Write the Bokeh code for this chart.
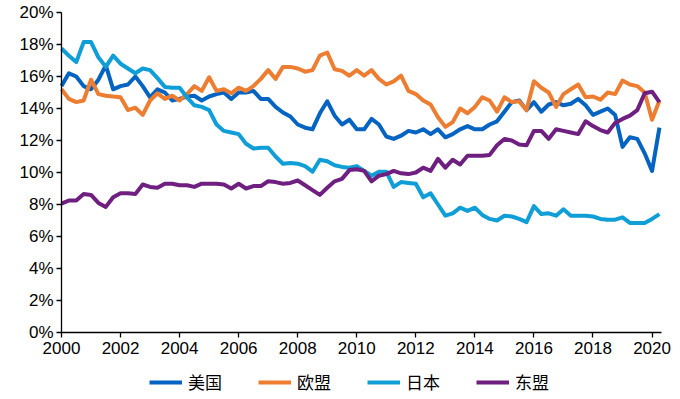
import numpy as np
from bokeh.plotting import figure
from bokeh.models import FixedTicker, Legend, LegendItem, Range1d
from bokeh.embed import file_html
from bokeh.resources import INLINE

# Quarterly data 2000Q1 .. 2020Q2 (share of total, %)
start_year = 2000
series_names = ["美国", "欧盟", "日本", "东盟"]

us = [15.4, 16.2, 16.0, 15.4, 15.2, 15.8, 16.7, 15.2, 15.4, 15.5,
      16.0, 15.4, 14.7, 15.2, 15.0, 14.5, 14.6, 14.75, 14.8, 14.5,
      14.75, 14.9, 15.0, 14.6, 15.0, 15.0, 15.1, 14.6, 14.6, 14.1,
      13.75, 13.5, 13.0, 12.8, 12.7, 13.7, 14.45, 13.55, 13.0, 13.3,
      12.7, 12.7, 13.35, 13.0, 12.25, 12.1, 12.3, 12.6, 12.5, 12.7,
      12.4, 12.7, 12.2, 12.4, 12.7, 12.9, 12.7, 12.7, 13.0, 13.2,
      13.8, 14.4, 14.5, 13.9, 14.4, 13.8, 14.25, 14.4, 14.2, 14.3,
      14.6, 14.2, 13.6, 13.8, 14.0, 13.6, 11.6, 12.2, 12.1, 11.2,
      10.1, 12.8]

eu = [15.2, 14.6, 14.4, 14.5, 15.8, 14.9, 14.8, 14.75, 14.7, 13.9,
      14.05, 13.6, 14.5, 14.95, 14.6, 14.8, 14.5, 14.9, 15.4, 15.1,
      15.95, 15.1, 15.2, 14.95, 15.3, 15.1, 15.4, 15.85, 16.4, 15.85,
      16.6, 16.6, 16.5, 16.3, 16.4, 17.3, 17.5, 16.45, 16.35, 16.05,
      16.4, 16.05, 16.4, 15.85, 15.5, 15.7, 16.05, 15.1, 14.9, 14.5,
      14.25, 13.45, 12.85, 13.15, 14.0, 13.7, 14.1, 14.7, 14.5, 13.8,
      14.7, 14.4, 14.45, 13.9, 15.7, 15.3, 15.0, 14.1, 14.9, 15.2,
      15.5, 14.7, 14.75, 14.55, 15.0, 14.9, 15.75, 15.5, 15.4, 15.0,
      13.3, 14.5]

japan = [17.75, 17.3, 16.9, 18.15, 18.15, 17.2, 16.6, 17.3, 16.8, 16.5,
         16.2, 16.5, 16.4, 15.9, 15.35, 15.3, 15.3, 14.7, 14.2, 14.1,
         13.9, 13.0, 12.6, 12.5, 12.4, 11.8, 11.5, 11.55, 11.55, 11.0,
         10.55, 10.6, 10.55, 10.4, 10.05, 10.8, 10.7, 10.45, 10.35, 10.3,
         10.4, 10.1, 9.8, 10.05, 10.05, 9.1, 9.4, 9.35, 9.3, 8.45,
         8.7, 8.0, 7.3, 7.45, 7.8, 7.6, 7.8, 7.35, 7.1, 7.0,
         7.3, 7.25, 7.1, 6.9, 7.9, 7.4, 7.45, 7.3, 7.7, 7.3,
         7.3, 7.3, 7.25, 7.1, 7.05, 7.05, 7.2, 6.85, 6.85, 6.85,
         7.1, 7.4]

asean = [8.05, 8.25, 8.25, 8.65, 8.6, 8.1, 7.85, 8.45, 8.7, 8.7,
         8.65, 9.25, 9.1, 9.05, 9.3, 9.3, 9.2, 9.2, 9.1, 9.3,
         9.3, 9.3, 9.25, 9.0, 9.3, 9.0, 9.15, 9.15, 9.45, 9.4,
         9.3, 9.35, 9.5, 9.2, 8.9, 8.6, 9.05, 9.45, 9.6, 10.15,
         10.2, 10.1, 9.45, 9.8, 9.9, 10.1, 9.95, 9.9, 10.0, 10.3,
         10.1, 10.85, 10.3, 10.8, 10.5, 11.05, 11.05, 11.05, 11.1, 11.7,
         12.1, 12.0, 11.75, 11.7, 12.6, 12.6, 12.1, 12.7, 12.6, 12.5,
         12.4, 13.2, 12.9, 12.65, 12.5, 13.1, 13.35, 13.55, 13.9, 14.95,
         15.05, 14.4]

x_ticks = [2000, 2002, 2004, 2006, 2008, 2010, 2012, 2014, 2016, 2018, 2020]
x_tick_labels = ["2000", "2002", "2004", "2006", "2008", "2010", "2012",
                 "2014", "2016", "2018", "2020"]
y_ticks = [0.0, 0.02, 0.04, 0.06, 0.08, 0.10, 0.12, 0.14, 0.16, 0.18, 0.20]
y_tick_labels = ["0%", "2%", "4%", "6%", "8%", "10%", "12%", "14%", "16%", "18%", "20%"]

colors = ["#0563C1", "#ED7D31", "#0F9ED5", "#6E1F7F"]

x = start_year + 0.25 * np.arange(len(us))

# layout (pixels): the plotting frame fills the whole page; both axes are pinned
# at data positions so their labels and the legend stay inside the frame.
page_w, page_h = 680, 399
axis_left_px, axis_right_px = 61, 661
top_px, zero_px = 12, 332
x_first, x_last = 2000.0, 2020.32
y_top = 0.20
xs = (axis_right_px - axis_left_px) / (x_last - x_first)
ys = (zero_px - top_px) / y_top
x_lo = x_first - axis_left_px / xs
x_hi = x_last + (page_w - axis_right_px) / xs
y_lo = -(page_h - zero_px) / ys
y_hi = y_top + top_px / ys

p = figure(frame_width=page_w, frame_height=page_h, output_backend="svg",
           toolbar_location=None,
           x_range=Range1d(x_lo, x_hi), y_range=Range1d(y_lo, y_hi),
           min_border_left=0, min_border_right=0, min_border_top=0,
           min_border_bottom=0)
p.outline_line_color = None
p.xgrid.visible = False
p.ygrid.visible = False
p.background_fill_color = "white"
p.border_fill_color = "white"

renderers = []
for vals, col in zip([us, eu, japan, asean], colors):
    r = p.line(x, np.array(vals) / 100.0, line_color=col, line_width=4,
               line_join="round")
    renderers.append(r)

font = "Liberation Sans"
for ax in [p.xaxis[0], p.yaxis[0]]:
    ax.axis_line_color = "black"
    ax.axis_line_width = 1.3
    ax.major_tick_line_color = "black"
    ax.major_tick_line_width = 1.3
    ax.minor_tick_line_color = None
    ax.major_tick_in = 0
    ax.major_tick_out = 5
    ax.major_label_text_font = font
    ax.major_label_text_font_size = "17px"
    ax.major_label_text_color = "black"

p.xaxis[0].ticker = FixedTicker(ticks=x_ticks)
p.xaxis[0].major_label_overrides = {t: l for t, l in zip(x_ticks, x_tick_labels)}
p.xaxis[0].major_label_standoff = 4
p.xaxis[0].fixed_location = 0
p.xaxis[0].bounds = (x_first, x_last)
p.yaxis[0].ticker = FixedTicker(ticks=y_ticks)
p.yaxis[0].major_label_overrides = {t: l for t, l in zip(y_ticks, y_tick_labels)}
p.yaxis[0].major_label_standoff = 3
p.yaxis[0].fixed_location = x_first
p.yaxis[0].bounds = (0, y_top)

legend = Legend(items=[LegendItem(label=n, renderers=[r]) for n, r in zip(series_names, renderers)],
                orientation="horizontal", location=(149, 5),
                label_text_font="Noto Sans CJK SC", label_text_font_size="17px",
                label_text_color="black",
                glyph_width=33, glyph_height=18, label_standoff=6, spacing=36,
                border_line_color=None, background_fill_alpha=0,
                padding=0, margin=0)
p.add_layout(legend, "center")

open("out.html", "w").write(file_html(p, INLINE))
